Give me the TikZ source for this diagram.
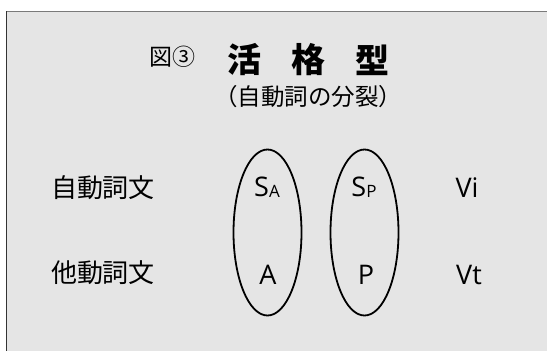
\documentclass[tikz,border=0pt]{standalone}
\usepackage{fontspec}
\setmainfont{Noto Sans CJK JP}
\newfontfamily\lat{Open Sans}
\definecolor{bg}{HTML}{E5E5E5}
\definecolor{topline}{HTML}{7A7A7A}
\begin{document}
\begin{tikzpicture}[x=1pt,y=-1pt,
  lbl/.style={inner sep=0pt, font=\fontsize{26}{26}\selectfont},
  sym/.style={inner sep=0pt, font=\lat\fontsize{27}{27}\selectfont},
  ttl/.style={inner sep=0pt, font=\fontsize{34}{34}\selectfont\bfseries},
  ring/.style={draw=black, line width=1.8pt}]
\useasboundingbox (0,0) rectangle (547,351);
\fill[bg] (6,11) rectangle (547,351);
\draw[topline, line width=1.3pt] (6,11.5) -- (547,11.5);
\draw[black!80, line width=1.3pt] (6.5,11) -- (6.5,351);
\node[inner sep=0pt, font=\fontsize{23}{23}\selectfont] (fig) at (172,57) {図③};
\node[ttl] (t1) at (244,60) {活};
\node[ttl] (t2) at (308,60) {格};
\node[ttl] (t3) at (372,60) {型};
\node[inner sep=0pt, font=\fontsize{23.5}{23.5}\selectfont] (sub) at (308,97) {（自動詞の分裂）};
\node[lbl] (vi) at (103,188) {自動詞文};
\node[lbl] (vt) at (103,273) {他動詞文};
\draw[ring] (267.5,232.5) ellipse [x radius=34, y radius=83];
\draw[ring] (364.5,232.5) ellipse [x radius=34, y radius=83];
\node[sym] (sa) at (267,187) {S\raisebox{-0.5pt}{\fontsize{17}{17}\selectfont A}};
\node[sym] (sp) at (364,187) {S\raisebox{-0.5pt}{\fontsize{17}{17}\selectfont P}};
\node[sym] (a) at (268,275) {A};
\node[sym] (p) at (366,275) {P};
\node[sym] (Vi) at (467,188) {Vi};
\node[sym] (Vt) at (469,275) {Vt};
\end{tikzpicture}
\end{document}
